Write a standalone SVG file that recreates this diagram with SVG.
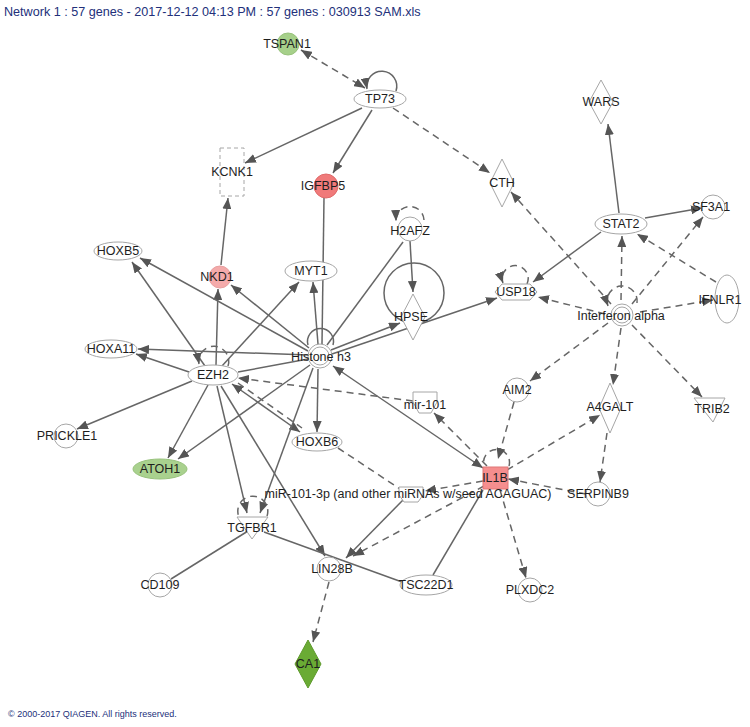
<svg xmlns="http://www.w3.org/2000/svg" width="750" height="727" viewBox="0 0 750 727">
<defs>
<style>
.e{fill:none;stroke:#666;stroke-width:1.5}
.d{fill:none;stroke:#666;stroke-width:1.5;stroke-dasharray:7,5}
.n{fill:#fff;stroke:#a6a6a6;stroke-width:1}
.nd{fill:#fff;stroke:#a6a6a6;stroke-width:1;stroke-dasharray:4,3}
.t{font-family:"Liberation Sans",Arial,sans-serif;font-size:12.5px;fill:#1e1e1e;text-anchor:middle}
.hd{font-family:"Liberation Sans",Arial,sans-serif;fill:#22307a}
</style>
<marker id="a" markerUnits="userSpaceOnUse" markerWidth="11" markerHeight="9" refX="11" refY="4.5" orient="auto"><path d="M0,0 L11,4.5 L0,9 Z" fill="#555"/></marker>
<marker id="s" markerUnits="userSpaceOnUse" markerWidth="11" markerHeight="9" refX="11" refY="4.5" orient="auto-start-reverse"><path d="M0,0 L11,4.5 L0,9 Z" fill="#555"/></marker>
</defs>
<rect width="750" height="727" fill="#fff"/>
<text class="hd" x="4" y="16" font-size="12.6">Network 1 : 57 genes - 2017-12-12 04:13 PM : 57 genes : 030913 SAM.xls</text>
<text class="hd" x="8" y="717" font-size="9">© 2000-2017 QIAGEN. All rights reserved.</text>

<g id="connectors">
<line class="d" x1="301" y1="50" x2="365" y2="88" marker-start="url(#s)" marker-end="url(#s)"/>
<path class="e" d="M396,91 A15,15 0 1 0 367,89" marker-end="url(#a)"/>
<line class="e" x1="362" y1="108" x2="245" y2="163" marker-end="url(#a)"/>
<line class="e" x1="372" y1="110" x2="333" y2="173" marker-end="url(#a)"/>
<line class="d" x1="393" y1="108" x2="490" y2="173" marker-end="url(#a)"/>
<line class="e" x1="619" y1="213" x2="608" y2="124" marker-end="url(#a)"/>
<line class="e" x1="645" y1="218" x2="702" y2="208" marker-end="url(#a)"/>
<line class="e" x1="601" y1="232" x2="533" y2="282" marker-end="url(#a)"/>
<line class="d" x1="621" y1="300" x2="622" y2="236" marker-end="url(#a)"/>
<line class="d" x1="632" y1="304" x2="703" y2="217" marker-end="url(#a)"/>
<line class="d" x1="716" y1="282" x2="637" y2="234" marker-end="url(#a)"/>
<line class="d" x1="611" y1="304" x2="511" y2="192" marker-end="url(#a)"/>
<line class="d" x1="605" y1="314" x2="538" y2="297" marker-end="url(#a)"/>
<line class="d" x1="640" y1="312" x2="713" y2="300" marker-end="url(#a)"/>
<line class="d" x1="608" y1="323" x2="530" y2="381" marker-end="url(#a)"/>
<line class="d" x1="621" y1="328" x2="613" y2="385" marker-end="url(#a)"/>
<line class="d" x1="632" y1="325" x2="702" y2="397" marker-end="url(#a)"/>
<path class="d" d="M637,303 A15,15 0 1 0 608,306" marker-end="url(#a)"/>
<path class="d" d="M527,284 A13,13 0 1 0 503,283" marker-end="url(#a)"/>
<path class="d" d="M424,220 A14,14 0 1 0 396,221" marker-end="url(#a)"/>
<line class="e" x1="410" y1="241" x2="413" y2="292" marker-end="url(#a)"/>
<circle class="e" cx="414" cy="293" r="30"/>
<line class="e" x1="403" y1="242" x2="327" y2="345"/>
<line class="e" x1="331" y1="350" x2="400" y2="323" marker-end="url(#a)"/>
<line class="e" x1="332" y1="354" x2="497" y2="298" marker-end="url(#a)"/>
<line class="e" x1="324" y1="198" x2="322" y2="344"/>
<path class="e" d="M333,345 A13,13 0 1 0 308,345"/>
<line class="e" x1="318" y1="344" x2="313" y2="282" marker-end="url(#a)"/>
<line class="e" x1="222" y1="366" x2="299" y2="282" marker-end="url(#a)"/>
<line class="e" x1="309" y1="348" x2="231" y2="285" marker-end="url(#a)"/>
<line class="e" x1="216" y1="365" x2="218" y2="289" marker-end="url(#a)"/>
<line class="e" x1="221" y1="265" x2="228" y2="198" marker-end="url(#a)"/>
<line class="e" x1="308" y1="351" x2="140" y2="258" marker-end="url(#a)"/>
<line class="e" x1="205" y1="366" x2="132" y2="262" marker-end="url(#a)"/>
<line class="e" x1="308" y1="355" x2="138" y2="349" marker-end="url(#a)"/>
<line class="e" x1="189" y1="372" x2="136" y2="354" marker-end="url(#a)"/>
<path class="d" d="M228,366 A15,15 0 1 0 199,364" marker-end="url(#a)"/>
<line class="e" x1="192" y1="381" x2="77" y2="429" marker-end="url(#a)"/>
<line class="e" x1="208" y1="385" x2="168" y2="458" marker-end="url(#a)"/>
<line class="e" x1="310" y1="365" x2="178" y2="459" marker-end="url(#a)"/>
<line class="e" x1="308" y1="359" x2="238" y2="372"/>
<line class="d" x1="413" y1="401" x2="238" y2="378" marker-end="url(#a)"/>
<line class="e" x1="232" y1="384" x2="300" y2="432" marker-start="url(#s)" marker-end="url(#s)"/>
<line class="d" x1="238" y1="383" x2="302" y2="428"/>
<line class="e" x1="318" y1="369" x2="317" y2="432" marker-end="url(#a)"/>
<line class="e" x1="313" y1="368" x2="260" y2="513" marker-end="url(#a)"/>
<line class="e" x1="217" y1="386" x2="247" y2="513" marker-end="url(#a)"/>
<line class="e" x1="221" y1="386" x2="325" y2="556" marker-end="url(#a)"/>
<path class="d" d="M267,516 A15,15 0 1 0 239,517"/>
<line class="e" x1="171" y1="579" x2="248" y2="531"/>
<line class="e" x1="264" y1="532" x2="402" y2="582"/>
<line class="e" x1="403" y1="500" x2="346" y2="558" marker-end="url(#a)"/>
<line class="d" x1="484" y1="486" x2="353" y2="556" marker-end="url(#a)"/>
<line class="d" x1="329" y1="582" x2="313" y2="642" marker-end="url(#a)"/>
<path class="d" d="M509,466 A13,13 0 1 0 484,466"/>
<line class="e" x1="333" y1="366" x2="483" y2="468" marker-start="url(#s)" marker-end="url(#s)"/>
<line class="d" x1="487" y1="466" x2="434" y2="413" marker-end="url(#a)"/>
<line class="d" x1="514" y1="402" x2="498" y2="459" marker-end="url(#a)"/>
<line class="d" x1="507" y1="470" x2="600" y2="415" marker-end="url(#a)"/>
<line class="d" x1="586" y1="494" x2="508" y2="479" marker-end="url(#a)"/>
<line class="d" x1="607" y1="433" x2="600" y2="482" marker-end="url(#a)"/>
<line class="d" x1="483" y1="481" x2="425" y2="491" marker-end="url(#a)"/>
<line class="d" x1="338" y1="448" x2="400" y2="489"/>
<line class="e" x1="483" y1="490" x2="433" y2="575"/>
<line class="d" x1="500" y1="490" x2="526" y2="578" marker-end="url(#a)"/>
</g>

<g id="TSPAN1"><circle cx="288" cy="44" r="11" fill="#a6d08a" stroke="#98c27c"/><text class="t" x="287" y="48">TSPAN1</text></g>
<g id="TP73"><ellipse class="n" cx="380" cy="99" rx="26" ry="9"/><text class="t" x="380" y="103">TP73</text></g>
<g id="KCNK1"><rect class="nd" x="220" y="148" width="24" height="48"/><text class="t" x="232" y="176">KCNK1</text></g>
<g id="IGFBP5"><circle cx="326" cy="186" r="12" fill="#f07a7a" stroke="#e06a6a"/><text class="t" x="323" y="190">IGFBP5</text></g>
<g id="CTH"><polygon class="n" points="502,159 514,183 502,207 490,183"/><text class="t" x="502" y="187">CTH</text></g>
<g id="WARS"><polygon class="n" points="601,80 613,102 601,124 589,102"/><text class="t" x="601" y="106">WARS</text></g>
<g id="STAT2"><ellipse class="n" cx="621" cy="224" rx="26" ry="10"/><text class="t" x="621" y="228">STAT2</text></g>
<g id="SF3A1"><circle class="n" cx="713" cy="207" r="12"/><text class="t" x="711" y="211">SF3A1</text></g>
<g id="H2AFZ"><circle class="n" cx="410" cy="229" r="12"/><text class="t" x="410" y="235">H2AFZ</text></g>
<g id="HPSE"><polygon class="n" points="413,294 425,317 413,340 401,317"/><text class="t" x="411" y="321">HPSE</text></g>
<g id="USP18"><polygon class="n" points="495,292 502,284 530,284 537,292 530,300 502,300"/><text class="t" x="516" y="296">USP18</text></g>
<g id="Interferon_alpha"><circle class="n" cx="622" cy="315" r="11"/><circle class="n" cx="622" cy="315" r="8"/><text class="t" x="621" y="320">Interferon alpha</text></g>
<g id="IFNLR1"><ellipse class="n" cx="727" cy="299" rx="12" ry="24"/><text class="t" x="720" y="304">IFNLR1</text></g>
<g id="AIM2"><circle class="n" cx="517" cy="390" r="12"/><text class="t" x="517" y="394">AIM2</text></g>
<g id="A4GALT"><polygon class="n" points="610,383 621,408 610,433 599,408"/><text class="t" x="610" y="411">A4GALT</text></g>
<g id="TRIB2"><polygon class="n" points="694,398 725,398 713,422"/><text class="t" x="712" y="413">TRIB2</text></g>
<g id="HOXB5"><ellipse class="n" cx="118" cy="251" rx="24" ry="9"/><text class="t" x="118" y="255">HOXB5</text></g>
<g id="NKD1"><circle cx="220" cy="277" r="11" fill="#f4aaaa" stroke="#e8a0a0"/><text class="t" x="217" y="281">NKD1</text></g>
<g id="MYT1"><ellipse class="n" cx="311" cy="271" rx="26" ry="10"/><text class="t" x="311" y="275">MYT1</text></g>
<g id="HOXA11"><ellipse class="n" cx="111" cy="349" rx="26" ry="9"/><text class="t" x="111" y="353">HOXA11</text></g>
<g id="Histone_h3"><circle class="n" cx="320" cy="356" r="12"/><circle class="n" cx="320" cy="356" r="9"/><text class="t" x="321" y="361">Histone h3</text></g>
<g id="EZH2"><ellipse class="n" cx="213" cy="375" rx="25" ry="10"/><text class="t" x="213" y="379">EZH2</text></g>
<g id="PRICKLE1"><circle class="n" cx="66" cy="436" r="12"/><text class="t" x="67" y="440">PRICKLE1</text></g>
<g id="ATOH1"><ellipse cx="160" cy="469" rx="27" ry="10" fill="#a9d18e" stroke="#98c27c"/><text class="t" x="160" y="473">ATOH1</text></g>
<g id="HOXB6"><ellipse class="n" cx="317" cy="442" rx="25" ry="9"/><text class="t" x="317" y="446">HOXB6</text></g>
<g id="mir-101"><polygon class="n" points="413,392 437,392 437,402 431,413 419,413 413,402"/><text class="t" x="425" y="409">mir-101</text></g>
<g id="IL1B"><rect x="483" y="467" width="25" height="22" fill="#f58e8e" stroke="#e07676"/><text class="t" x="495" y="482">IL1B</text></g>
<g id="miR-101-3p"><polygon class="n" points="399,487 423,487 423,495 418,502 404,502 399,495"/><text class="t" x="408" y="498">miR-101-3p (and other miRNAs w/seed ACAGUAC)</text></g>
<g id="SERPINB9"><circle class="n" cx="598" cy="494" r="12"/><text class="t" x="598" y="498">SERPINB9</text></g>
<g id="TGFBR1"><polygon class="n" points="237,517 268,517 252,539"/><text class="t" x="252" y="532">TGFBR1</text></g>
<g id="CD109"><circle class="n" cx="160" cy="585" r="12"/><text class="t" x="160" y="589">CD109</text></g>
<g id="LIN28B"><circle class="n" cx="329" cy="569" r="12"/><text class="t" x="332" y="573">LIN28B</text></g>
<g id="TSC22D1"><ellipse class="n" cx="426" cy="585" rx="26" ry="10"/><text class="t" x="426" y="589">TSC22D1</text></g>
<g id="PLXDC2"><circle class="n" cx="530" cy="590" r="12"/><text class="t" x="530" y="594">PLXDC2</text></g>
<g id="CA1"><polygon points="308,640 321,664 308,688 295,664" fill="#6aab34" stroke="#5e9a2c"/><text class="t" x="308" y="668">CA1</text></g>
</svg>
